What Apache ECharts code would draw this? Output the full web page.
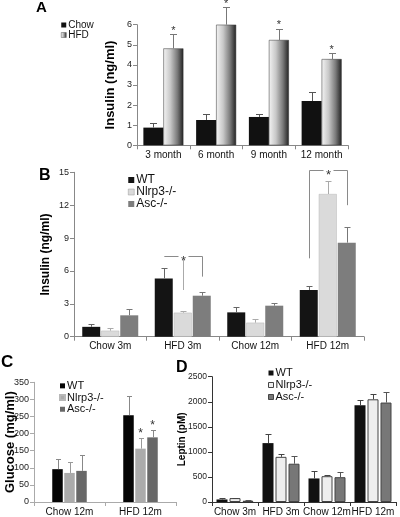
<!DOCTYPE html>
<html><head><meta charset="utf-8">
<script src="https://cdn.jsdelivr.net/npm/echarts@6/dist/echarts.min.js"></script>
<style>html,body{margin:0;padding:0;background:#fff}#c{width:400px;height:517px}</style>
</head><body><div id="c"></div>
<script>
// ---------- Panel A ----------
const catsA = ['3 month', '6 month', '9 month', '12 month'];
const chowA = [0.88, 1.26, 1.41, 2.2];
const chowErrA = [0.21, 0.28, 0.13, 0.44];
const hfdA = [4.82, 6.0, 5.24, 4.29];
const hfdErrA = [0.70, 0.86, 0.56, 0.28];
const starsA = [[0, 1], [1, 1], [2, 1], [3, 1]];
const ticksA = [0, 1, 2, 3, 4, 5, 6];
// ---------- Panel B ----------
const catsB = ['Chow 3m', 'HFD 3m', 'Chow 12m', 'HFD 12m'];
const wtB = [0.9, 5.32, 2.22, 4.26];
const wtErrB = [0.3, 0.98, 0.52, 0.36];
const nlrpB = [0.55, 2.19, 1.28, 13.02];
const nlrpErrB = [0.21, 0.15, 0.36, 1.22];
const ascB = [1.95, 3.74, 2.83, 8.58];
const ascErrB = [0.55, 0.34, 0.27, 1.46];
const ticksB = [0, 3, 6, 9, 12, 15];
// brackets: [category, fromSeries, toSeries, topValue, fromBottom, toBottom]
const bracketsB = [[1, 0, 2, 7.35, 7.35, 5.48], [3, 0, 2, 15.2, 7.15, 12.0]];
// extra stems: [category, series, topValue, bottomValue]
const stemsB = [[1, 1, 7.1, 4.26]];
// ---------- Panel C ----------
const catsC = ['Chow 12m', 'HFD 12m'];
const wtC = [96, 254];
const wtErrC = [29, 57];
const nlrpC = [85, 156];
const nlrpErrC = [31, 32];
const ascC = [91, 189];
const ascErrC = [47, 22];
const starsC = [[1, 1], [1, 2]];
const ticksC = [0, 50, 100, 150, 200, 250, 300, 350];
// ---------- Panel D ----------
const catsD = ['Chow 3m', 'HFD 3m', 'Chow 12m', 'HFD 12m'];
const wtD = [51, 1175, 470, 1931];
const wtErrD = [19, 188, 157, 106];
const nlrpD = [78, 901, 515, 2049];
const nlrpErrD = [8, 59, 33, 111];
const ascD = [25, 764, 495, 1984];
const ascErrD = [5, 156, 112, 215];
const ticksD = [0, 500, 1000, 1500, 2000, 2500];

const FONT = '"Liberation Sans", Arial, Helvetica, sans-serif';
const chart = echarts.init(document.getElementById('c'), null, {renderer: 'canvas'});

function off(i, n, w, g) { return (i - (n - 1) / 2) * (w + g); }

function errSeries(ax, values, errs, offset, color, capW) {
  return {
    type: 'custom', xAxisIndex: ax, yAxisIndex: ax, silent: true, z: 5, clip: false,
    data: values.map((v, i) => [i, v, v + errs[i]]),
    renderItem(params, api) {
      const b = api.coord([api.value(0), api.value(1)]);
      const t = api.coord([api.value(0), api.value(2)]);
      const x = Math.round(b[0] + offset) + 0.5;
      const ty = Math.round(t[1]) + 0.5;
      return {type: 'group', children: [
        {type: 'line', shape: {x1: x, y1: b[1], x2: x, y2: ty}, style: {stroke: color, lineWidth: 1}},
        {type: 'line', shape: {x1: x - capW / 2, y1: ty, x2: x + capW / 2, y2: ty}, style: {stroke: color, lineWidth: 1}}
      ]};
    }
  };
}

function starSeries(ax, stars, valueArrs, errArrs, n, w, g, size) {
  return {
    type: 'custom', xAxisIndex: ax, yAxisIndex: ax, silent: true, z: 6, clip: false,
    data: stars.map(s => [s[0], valueArrs[s[1]][s[0]] + errArrs[s[1]][s[0]], s[1]]),
    renderItem(params, api) {
      const p = api.coord([api.value(0), api.value(1)]);
      return {type: 'text', x: p[0] + off(api.value(2), n, w, g), y: p[1] + 2,
        style: {text: '*', fontSize: size, fontFamily: FONT, fill: '#333', align: 'center', verticalAlign: 'bottom'}};
    }
  };
}

function bar(name, ax, data, itemStyle, w, extra) {
  return Object.assign({type: 'bar', name, xAxisIndex: ax, yAxisIndex: ax, data, barWidth: w,
    itemStyle, silent: true, animation: false}, extra || {});
}

function xAx(gi, cats, color, fs, extra) {
  return Object.assign({type: 'category', gridIndex: gi, data: cats,
    axisLine: {lineStyle: {color, width: 1}},
    axisTick: {show: true, length: 4, lineStyle: {color}},
    axisLabel: {fontFamily: FONT, fontSize: fs, color: '#111', margin: 5, interval: 0}}, extra || {});
}
function yAx(gi, max, interval, name, gap, nfs, color, fs, extra) {
  return Object.assign({type: 'value', gridIndex: gi, min: 0, max, interval,
    name, nameLocation: 'middle', nameGap: gap, nameMoveOverlap: false,
    nameTextStyle: {fontFamily: FONT, fontSize: nfs, fontWeight: 'bold', color: '#000'},
    axisLine: {show: true, lineStyle: {color, width: 1}},
    axisTick: {show: true, length: 4, lineStyle: {color}},
    splitLine: {show: false},
    axisLabel: {fontFamily: FONT, fontSize: fs, color: '#222', margin: 5, formatter: v => String(v)}}, extra || {});
}

const hfdGrad = new echarts.graphic.LinearGradient(0, 0, 1, 0, [
  {offset: 0, color: '#f4f4f4'}, {offset: 0.35, color: '#c8c8c8'},
  {offset: 0.7, color: '#7a7a7a'}, {offset: 1, color: '#222'}]);

const wA = 20, gA = 0, wB = 18, gB = 1, wC = 10.5, gC = 1.5, wD = 11, gD = 2;

const series = [
  // A
  bar('Chow', 0, chowA, {color: '#111'}, wA, {barGap: '0%'}),
  bar('HFD', 0, hfdA, {color: hfdGrad, borderColor: '#333', borderWidth: 0.5}, wA, {barGap: '0%'}),
  errSeries(0, chowA, chowErrA, off(0, 2, wA, gA), '#555', 7),
  errSeries(0, hfdA, hfdErrA, off(1, 2, wA, gA), '#777', 7),
  starSeries(0, starsA, [chowA, hfdA], [chowErrA, hfdErrA], 2, wA, gA, 11),
  // B
  bar('WT', 1, wtB, {color: '#141414'}, wB, {barGap: (gB / wB * 100) + '%'}),
  bar('Nlrp3-/-', 1, nlrpB, {color: '#dadada', borderColor: '#b8b8b8', borderWidth: 0.5}, wB, {barGap: (gB / wB * 100) + '%'}),
  bar('Asc-/-', 1, ascB, {color: '#7d7d7d'}, wB, {barGap: (gB / wB * 100) + '%'}),
  errSeries(1, wtB, wtErrB, off(0, 3, wB, gB), '#666', 6),
  errSeries(1, nlrpB, nlrpErrB, off(1, 3, wB, gB), '#aaa', 6),
  errSeries(1, ascB, ascErrB, off(2, 3, wB, gB), '#777', 6),
  {
    type: 'custom', xAxisIndex: 1, yAxisIndex: 1, silent: true, z: 6, clip: false,
    data: bracketsB,
    renderItem(params, api) {
      const c = api.value(0);
      const topP = api.coord([c, api.value(3)]);
      const x1 = Math.round(topP[0] + off(api.value(1), 3, wB, gB)) + 0.5;
      const x2 = Math.round(topP[0] + off(api.value(2), 3, wB, gB)) + 0.5;
      const y = Math.round(topP[1]) + 0.5;
      const yb1 = api.coord([c, api.value(4)])[1];
      const yb2 = api.coord([c, api.value(5)])[1];
      const xm = (x1 + x2) / 2;
      const col = '#8a8a8a';
      return {type: 'group', children: [
        {type: 'line', shape: {x1, y1: y, x2: xm - 5, y2: y}, style: {stroke: col, lineWidth: 1}},
        {type: 'line', shape: {x1: xm + 5, y1: y, x2, y2: y}, style: {stroke: col, lineWidth: 1}},
        {type: 'line', shape: {x1, y1: y, x2: x1, y2: yb1}, style: {stroke: col, lineWidth: 1}},
        {type: 'line', shape: {x1: x2, y1: y, x2, y2: yb2}, style: {stroke: col, lineWidth: 1}},
        {type: 'text', x: xm, y: y + 5, style: {text: '*', fontSize: 13, fontFamily: FONT, fill: '#333', align: 'center', verticalAlign: 'middle'}}
      ]};
    }
  },
  {
    type: 'custom', xAxisIndex: 1, yAxisIndex: 1, silent: true, z: 6, clip: false,
    data: stemsB,
    renderItem(params, api) {
      const c = api.value(0);
      const t = api.coord([c, api.value(2)]);
      const b = api.coord([c, api.value(3)]);
      const x = Math.round(t[0] + off(api.value(1), 3, wB, gB)) + 0.5;
      return {type: 'line', shape: {x1: x, y1: t[1], x2: x, y2: b[1]}, style: {stroke: '#aaa', lineWidth: 1}};
    }
  },
  // C
  bar('WT', 2, wtC, {color: '#050505'}, wC, {barGap: (gC / wC * 100) + '%'}),
  bar('Nlrp3-/-', 2, nlrpC, {color: '#ababab'}, wC, {barGap: (gC / wC * 100) + '%'}),
  bar('Asc-/-', 2, ascC, {color: '#686868'}, wC, {barGap: (gC / wC * 100) + '%'}),
  errSeries(2, wtC, wtErrC, off(0, 3, wC, gC), '#888', 5),
  errSeries(2, nlrpC, nlrpErrC, off(1, 3, wC, gC), '#999', 5),
  errSeries(2, ascC, ascErrC, off(2, 3, wC, gC), '#888', 5),
  starSeries(2, starsC, [wtC, nlrpC, ascC], [wtErrC, nlrpErrC, ascErrC], 3, wC, gC, 12),
  // D
  bar('WT', 3, wtD, {color: '#111'}, wD, {barGap: (gD / wD * 100) + '%'}),
  bar('Nlrp3-/-', 3, nlrpD, {color: '#eeeeee', borderColor: '#444', borderWidth: 1}, wD, {barGap: (gD / wD * 100) + '%'}),
  bar('Asc-/-', 3, ascD, {color: '#777', borderColor: '#444', borderWidth: 1}, wD, {barGap: (gD / wD * 100) + '%'}),
  errSeries(3, wtD, wtErrD, off(0, 3, wD, gD), '#444', 6),
  errSeries(3, nlrpD, nlrpErrD, off(1, 3, wD, gD), '#444', 6),
  errSeries(3, ascD, ascErrD, off(2, 3, wD, gD), '#555', 6)
];

function legend(left, top, names, styles, fs, lh, icon) {
  return {left, top, orient: 'vertical', itemGap: 0, itemWidth: icon, itemHeight: icon,
    icon: 'rect', selectedMode: false, padding: 0,
    textStyle: {fontFamily: FONT, fontSize: fs, lineHeight: lh, color: '#111', padding: [0, 0, 0, -3]},
    data: names.map((n, i) => ({name: n, itemStyle: styles[i]}))};
}

const option = {
  animation: false,
  backgroundColor: '#fff',
  title: [
    {text: 'A', left: 36, top: 0, padding: 0, textStyle: {fontFamily: FONT, fontSize: 15, fontWeight: 'bold', color: '#000'}},
    {text: 'B', left: 39, top: 168, padding: 0, textStyle: {fontFamily: FONT, fontSize: 16, fontWeight: 'bold', color: '#000'}},
    {text: 'C', left: 1, top: 354, padding: 0, textStyle: {fontFamily: FONT, fontSize: 17, fontWeight: 'bold', color: '#000'}},
    {text: 'D', left: 176, top: 360, padding: 0, textStyle: {fontFamily: FONT, fontSize: 16, fontWeight: 'bold', color: '#000'}}
  ],
  legend: [
    legend(61, 20, ['Chow', 'HFD'], [{color: '#111'}, {color: hfdGrad, borderColor: '#555', borderWidth: 0.5}], 10, 10, 5),
    legend(128, 174, ['WT', 'Nlrp3-/-', 'Asc-/-'], [{color: '#141414'}, {color: '#dadada', borderColor: '#999', borderWidth: 0.5}, {color: '#7d7d7d'}], 12, 12, 6),
    legend(59, 380, ['WT', 'Nlrp3-/-', 'Asc-/-'], [{color: '#050505'}, {color: '#ababab'}, {color: '#686868'}], 11, 11.7, 5),
    legend(268, 367, ['WT', 'Nlrp3-/-', 'Asc-/-'], [{color: '#111'}, {color: '#eeeeee', borderColor: '#444', borderWidth: 1}, {color: '#777', borderColor: '#444', borderWidth: 1}], 11, 12, 5)
  ],
  grid: [
    {left: 137, top: 24.7, width: 211, height: 120.6},
    {left: 74, top: 172.3, width: 290, height: 164.4},
    {left: 34, top: 382.3, width: 142, height: 121},
    {left: 212, top: 376.7, width: 184, height: 127.6}
  ],
  xAxis: [
    xAx(0, catsA, '#888', 10),
    xAx(1, catsB, '#888', 10),
    xAx(2, catsC, '#aaa', 10),
    xAx(3, catsD, '#333', 10)
  ],
  yAxis: [
    yAx(0, ticksA[ticksA.length - 1], ticksA[1] - ticksA[0], 'Insulin (ng/ml)', 20, 13, '#888', 9),
    yAx(1, ticksB[ticksB.length - 1], ticksB[1] - ticksB[0], 'Insulin (ng/ml)', 22, 12, '#888', 9),
    yAx(2, ticksC[ticksC.length - 1], ticksC[1] - ticksC[0], 'Glucose (mg/ml)', 17, 13, '#aaa', 9),
    yAx(3, ticksD[ticksD.length - 1], ticksD[1] - ticksD[0], 'Leptin (pM)', 25, 10, '#333', 8.5)
  ],
  series
};
chart.setOption(option);
</script>
</body></html>
